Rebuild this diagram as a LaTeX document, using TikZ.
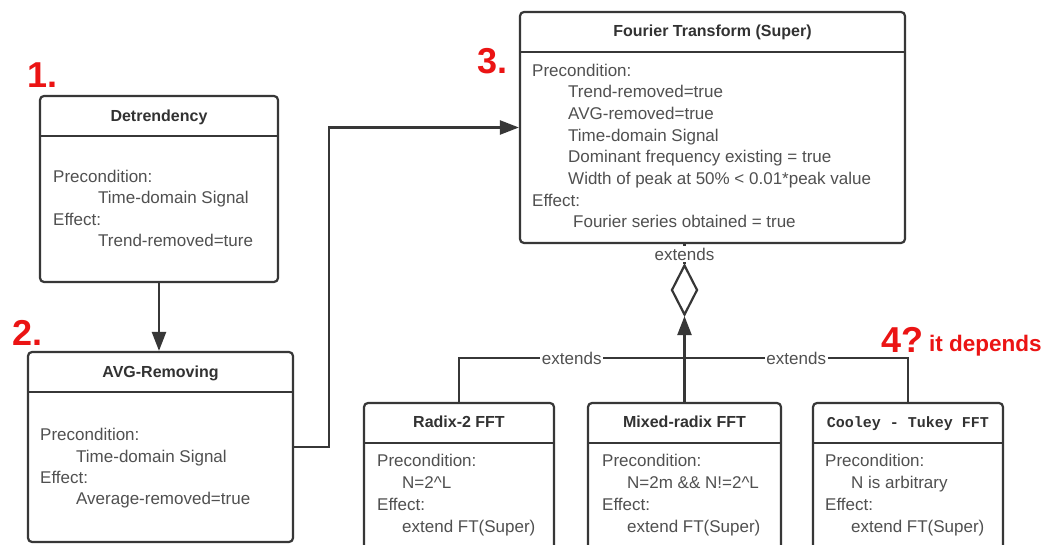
\documentclass[tikz,border=0pt]{standalone}
\usepackage{fontspec}
\setmainfont{Liberation Sans}
\newfontfamily\monof{Liberation Mono}
\usetikzlibrary{arrows.meta,shapes.geometric}
\definecolor{linec}{RGB}{55,55,55}
\definecolor{textc}{RGB}{80,80,80}
\definecolor{titlec}{RGB}{50,50,50}
\definecolor{redc}{RGB}{235,20,20}
\tikzset{
  umlbox/.style={draw=linec, line width=2.2pt, rounded corners=4pt, fill=white, inner sep=0pt},
  hdr/.style={draw=linec, line width=2.2pt},
  conn/.style={draw=linec, line width=2.4pt},
  arr/.style={-{Triangle[length=19pt,width=14pt]}},
  body/.style={anchor=base west, inner sep=0pt, text=textc, font=\fontsize{17}{20}\selectfont},
  ttl/.style={anchor=base, inner sep=0pt, text=titlec, font=\bfseries\fontsize{16}{19}\selectfont},
  lbl/.style={fill=white, inner sep=1.5pt, text=textc, font=\fontsize{17}{20}\selectfont},
  bignum/.style={anchor=base west, inner sep=0pt, text=redc, font=\bfseries\fontsize{36}{40}\selectfont},
}
\begin{document}
\begin{tikzpicture}[x=1pt,y=-1pt]
\useasboundingbox (0,0) rectangle (1045,545);
\clip (0,0) rectangle (1045,545);
\fill[white] (0,0) rectangle (1045,545);

% boxes
\node[umlbox, minimum width=238pt, minimum height=186pt] (det) at (159,189) {};
\draw[hdr] (40,136) -- (278,136);
\node[umlbox, minimum width=265pt, minimum height=190pt] (avg) at (160.5,447) {};
\draw[hdr] (28,392) -- (293,392);
\node[umlbox, minimum width=385pt, minimum height=231pt] (ft) at (712.5,127.5) {};
\draw[hdr] (520,52) -- (905,52);
\node[umlbox, minimum width=190pt, minimum height=160pt] (rad) at (459,483) {};
\draw[hdr] (364,443) -- (554,443);
\node[umlbox, minimum width=193pt, minimum height=160pt] (mix) at (684.5,483) {};
\draw[hdr] (588,443) -- (781,443);
\node[umlbox, minimum width=190pt, minimum height=160pt] (coo) at (908,483) {};
\draw[hdr] (813,443) -- (1003,443);

% titles
\node[ttl] at (159,122) {Detrendency};
\node[ttl] at (160.5,378) {AVG-Removing};
\node[ttl] at (712.5,37) {Fourier Transform (Super)};
\node[ttl] at (459,428) {Radix-2 FFT};
\node[ttl] at (684.5,428) {Mixed-radix FFT};
\node[ttl, font=\monof\bfseries\fontsize{15}{18}\selectfont] at (908,428) {Cooley - Tukey FFT};

% Detrendency body
\node[body] at (53,183) {Precondition:};
\node[body] at (98,204) {Time-domain Signal};
\node[body] at (53,226) {Effect:};
\node[body] at (98,247) {Trend-removed=ture};

% AVG body
\node[body] at (40,440) {Precondition:};
\node[body] at (76,462) {Time-domain Signal};
\node[body] at (40,483) {Effect:};
\node[body] at (76,504) {Average-removed=true};

% FT body
\node[body] at (532,77) {Precondition:};
\node[body] at (568,98) {Trend-removed=true};
\node[body] at (568,120) {AVG-removed=true};
\node[body] at (568,142) {Time-domain Signal};
\node[body] at (568,163) {Dominant frequency existing = true};
\node[body] at (568,185) {Width of peak at 50\% < 0.01*peak value};
\node[body] at (532,207) {Effect:};
\node[body] at (573,228) {Fourier series obtained = true};

% Radix body
\node[body] at (377,467) {Precondition:};
\node[body] at (402,488) {N=2\^{}L};
\node[body] at (377,510) {Effect:};
\node[body] at (402,532) {extend FT(Super)};

% Mixed body
\node[body] at (602,467) {Precondition:};
\node[body] at (627,488) {N=2m \&\& N!=2\^{}L};
\node[body] at (602,510) {Effect:};
\node[body] at (627,532) {extend FT(Super)};

% Cooley body
\node[body] at (825,467) {Precondition:};
\node[body] at (851,488) {N is arbitrary};
\node[body] at (825,510) {Effect:};
\node[body] at (851,532) {extend FT(Super)};

% red labels
\node[bignum] (n1) at (27,88) {1.};
\node[bignum] (n2) at (12,346) {2.};
\node[bignum] (n3) at (477,74) {3.};
\node[bignum] (n4) at (881,353) {4?};
\node[bignum, font=\bfseries\fontsize{22.5}{26}\selectfont] (dep) at (929,352) {it depends};

% connectors
\draw[conn, arr] (det.south) -- (det.south |- avg.north);
\draw[conn, arr] (avg.east) -- ++(35,0) |- (ft.west);

\node[draw=linec, line width=2.2pt, fill=white, shape=diamond, inner sep=0pt,
      minimum width=26pt, minimum height=50pt] (dia) at (684.5,290) {};
\draw[conn, arr] (mix.north) -- (dia.south);
\draw[conn] (dia.north) -- (dia.north |- ft.south);
\node[lbl] (ext0) at (684.5,254) {extends};

\coordinate (j) at (684.5,358);
\draw[conn] (rad.north) |- node[pos=0.75, lbl] {extends} (j);
\draw[conn] (coo.north) |- node[pos=0.75, lbl] {extends} (j);
\end{tikzpicture}
\end{document}
